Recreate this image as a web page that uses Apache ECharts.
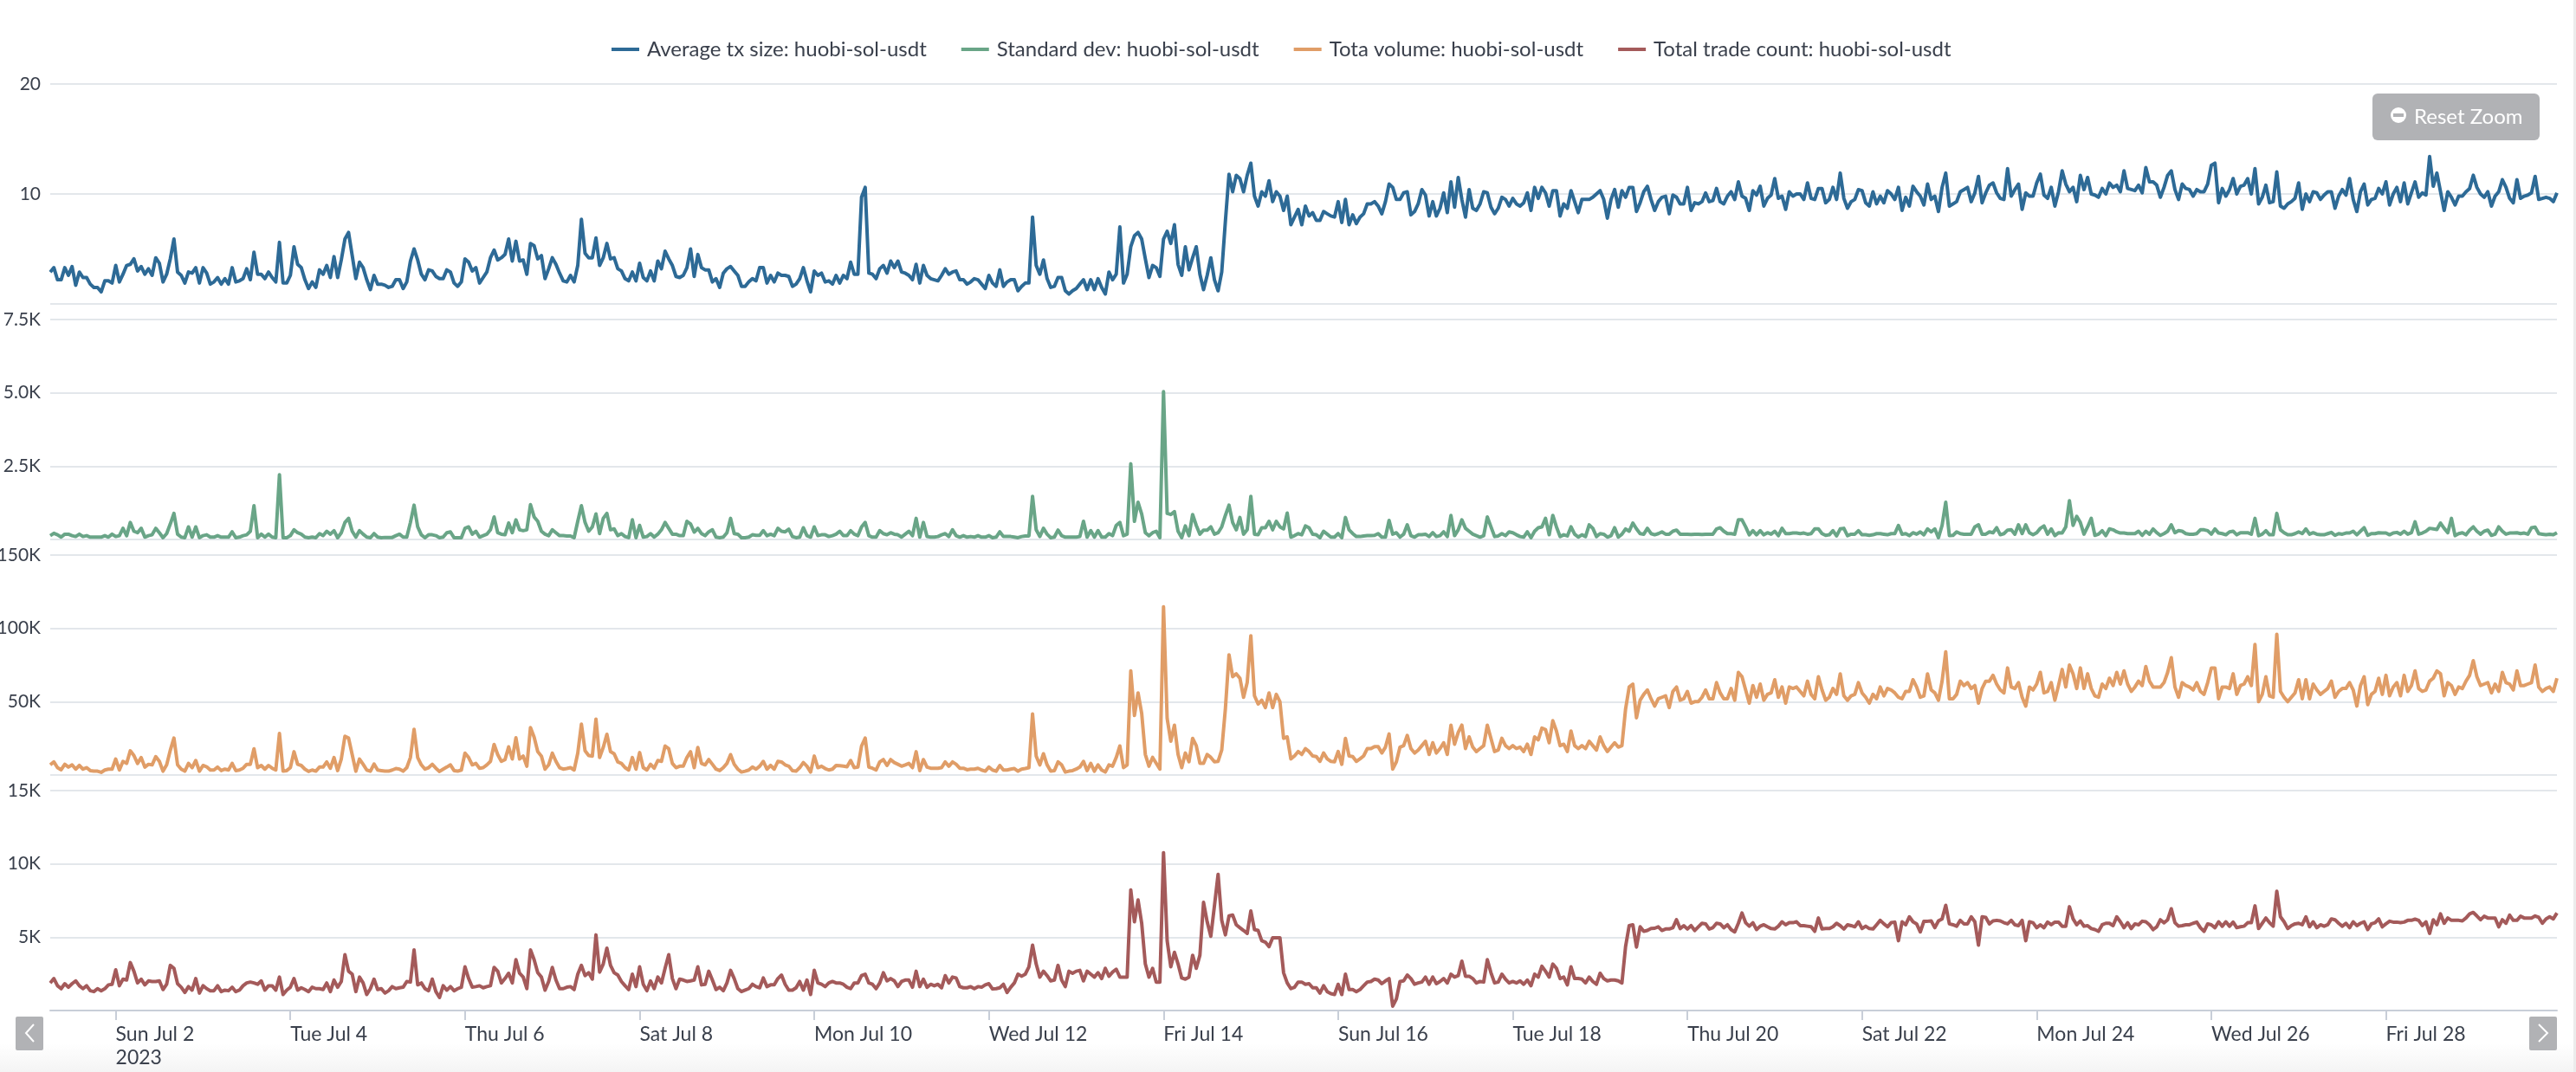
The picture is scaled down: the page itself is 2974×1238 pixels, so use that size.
<!DOCTYPE html>
<html><head><meta charset="utf-8">
<style>html,body{margin:0;padding:0;background:#fff}#c{width:2974px;height:1238px}</style>
<script src="https://cdn.jsdelivr.net/npm/echarts@6/dist/echarts.min.js"></script>
</head><body><div id="c"></div><script>
const seriesNames=["Average tx size: huobi-sol-usdt","Standard dev: huobi-sol-usdt","Tota volume: huobi-sol-usdt","Total trade count: huobi-sol-usdt"];
const colors=["#2d6a96","#69a587","#e09d67","#a45a5a"];
const avgTxSize=[2.9,3.3,2.2,2.2,3.3,2.6,3.4,1.7,2.9,2.4,2.4,1.8,1.5,1.5,1.1,2.1,2.1,1.9,3.5,2.0,2.7,3.5,3.6,4.1,3.0,3.4,2.7,3.2,2.6,4.2,3.7,2.0,2.7,4.1,5.9,2.9,2.6,1.9,2.9,2.8,3.3,1.9,3.3,2.8,1.8,2.0,2.4,1.8,2.3,1.8,3.3,2.0,2.1,2.3,3.2,2.2,4.7,2.7,2.7,2.3,2.9,2.4,2.0,5.6,1.9,1.9,2.6,5.2,3.6,3.3,2.2,1.4,2.0,1.5,3.1,2.7,3.5,2.4,4.3,2.4,4.0,5.9,6.5,4.4,2.3,3.8,3.3,2.2,1.3,2.6,1.8,1.8,1.7,1.5,1.6,2.2,2.2,1.4,2.0,3.9,5.0,4.0,2.7,2.2,3.1,3.0,2.5,2.3,2.3,3.1,2.9,1.9,1.6,2.0,4.1,3.8,3.0,3.3,1.9,2.4,2.9,4.2,4.9,4.0,4.2,4.5,5.9,3.9,5.7,3.9,4.0,2.7,5.5,5.3,4.1,4.4,2.3,3.2,4.2,3.6,2.8,2.1,2.0,2.6,2.0,3.5,7.7,4.6,4.2,4.2,6.0,3.5,4.2,5.5,4.1,4.2,3.2,3.0,2.3,2.1,2.9,2.1,3.7,2.4,2.1,3.0,2.1,3.9,3.2,4.8,4.1,3.5,2.5,2.4,2.6,3.3,5.0,2.5,4.5,3.3,3.1,3.1,2.0,2.3,1.5,2.8,3.2,3.4,3.0,2.6,1.6,1.6,2.0,2.3,2.1,3.3,3.3,1.9,2.6,2.0,2.8,2.6,2.6,2.5,1.6,1.8,2.3,3.3,2.1,1.1,3.0,2.6,2.8,2.0,2.1,1.8,2.6,1.9,2.6,2.3,3.8,2.7,2.7,9.7,10.6,
2.8,2.7,2.3,3.2,3.5,2.8,3.9,3.3,3.9,2.9,2.8,2.6,2.2,3.6,1.9,3.5,2.6,2.3,2.2,2.1,2.6,3.2,2.7,2.9,3.0,2.2,2.2,1.8,2.0,2.3,2.2,1.8,1.4,2.6,1.9,1.6,3.1,1.6,2.0,2.2,2.2,1.2,1.6,1.9,1.9,7.9,3.5,2.7,4.0,2.3,1.5,1.6,2.4,2.4,1.2,0.9,1.2,1.4,1.8,2.2,1.3,2.2,1.3,2.3,1.5,0.9,2.9,2.2,2.7,7.0,1.9,2.7,5.2,6.2,6.5,5.9,4.1,2.4,3.5,3.3,2.5,5.9,6.6,5.5,7.2,3.6,2.6,5.2,3.1,4.2,5.2,2.7,1.3,2.6,4.2,2.2,1.2,2.9,7.5,11.8,10.2,11.7,11.4,10.2,11.7,12.8,9.8,8.9,10.2,9.8,11.2,9.3,10.2,9.8,8.5,9.8,7.2,7.9,8.6,7.2,8.9,8.0,8.3,7.6,7.6,8.4,8.2,8.0,7.9,9.3,7.4,9.5,7.2,8.1,7.3,7.9,8.2,9.1,9.1,9.3,8.9,8.2,9.3,10.9,10.6,9.5,9.5,10.1,10.2,8.1,8.4,9.1,10.4,9.9,8.0,9.3,8.0,8.7,10.1,8.3,11.1,8.8,11.5,9.5,7.9,10.4,8.7,8.5,9.1,10.2,10.1,8.8,8.2,8.7,9.7,9.5,8.9,9.6,9.1,8.9,9.2,10.1,8.5,10.6,9.6,10.6,10.1,8.9,10.3,10.3,8.0,9.1,8.7,10.3,9.3,8.3,9.5,9.5,9.5,9.7,10.0,10.3,9.5,7.8,9.5,10.4,8.8,10.3,9.7,10.6,10.6,8.4,9.2,10.2,10.7,9.5,8.5,9.3,9.7,9.8,8.2,9.9,9.7,9.1,9.1,10.6,8.5,9.2,9.1,9.3,10.1,9.3,9.4,10.5,9.3,9.1,9.8,10.2,9.5,
11.1,9.8,9.6,8.5,10.3,9.9,10.7,8.9,9.6,9.9,11.4,9.6,9.8,8.6,10.2,9.8,10,10,9.5,11,9.6,9.5,10.5,10.5,9.2,9.5,10.6,9.5,11.9,9.6,8.7,9.3,9.5,10.4,10.3,9.2,8.9,10.2,9.1,9.8,9.2,10.3,10,9.5,10.6,8.5,9.7,8.9,10.7,10.2,9.8,9,10.9,9.5,9.8,8.4,10.6,11.9,8.9,9.1,9.3,10.2,10.4,10.6,9.3,10.1,11.6,9.2,10.1,10.8,11,10.1,9.6,9.5,12.3,9.8,10.4,10.9,8.6,10.1,9.8,9.8,11,11.8,9.9,9.6,10.6,8.9,10.2,12.1,10.9,10.2,10.6,9.3,11.7,10.4,11.5,10,9.9,9.7,10.5,10,11,10.6,10.8,10.2,12.1,10.5,10.4,10.3,10.8,10.1,12.4,11.1,11.1,10.8,9.7,10.6,11.7,12.1,10.4,9.5,10.9,10.5,10.4,9.8,10.4,10.2,10.2,10.9,12.6,12.8,9.2,10.5,9.8,10.4,11.4,10,10.7,10.8,11.4,10,12.3,9.1,9.7,10.8,9.2,9.3,12,8.9,8.7,9.1,9.3,9.6,11,8.6,10,9.3,10.2,10.1,9.5,9.9,10.2,10.2,8.7,9.8,10.4,9.9,11.4,9.5,8.4,10.2,10.9,9,9.5,9.6,10.5,10,11.1,9,10,10.6,9.3,11,9.1,10.1,11.1,9.7,10.1,9.9,13.4,10.7,11.9,10.2,8.5,10.2,9.7,9,9.8,9.8,10.2,10.5,11.7,10.6,10,9.7,10.2,8.9,9.8,10.2,11.3,10.6,9.6,9.2,11.3,9.6,9.8,9.9,10.1,11.6,9.5,9.6,9.7,9.6,9.3,10.1];
const stdDev=[130,210,160,80,180,180,130,100,180,100,130,80,80,80,80,130,80,180,100,130,380,130,580,280,230,380,80,130,160,380,230,60,200,530,890,180,80,60,430,80,430,60,130,160,80,80,130,80,80,80,260,60,80,130,160,280,1150,60,180,80,180,80,60,2210,60,60,130,330,230,180,80,60,80,60,200,130,280,180,300,60,230,580,720,280,80,300,180,80,60,200,80,60,70,70,70,130,180,80,80,580,1170,430,160,60,160,160,130,60,80,230,260,60,60,60,380,430,180,280,80,130,180,330,770,230,180,160,560,230,670,330,300,330,1190,770,620,280,180,130,330,230,130,130,120,120,60,620,1150,580,280,430,870,200,720,890,330,360,130,200,100,60,670,60,480,80,100,200,80,180,330,580,380,180,180,130,130,620,530,250,380,200,130,260,330,80,60,80,230,720,200,180,60,60,80,160,140,140,300,130,180,130,380,280,260,350,100,60,80,400,130,80,430,130,160,160,100,130,180,280,130,130,300,180,130,430,580,
130,80,80,300,200,160,230,180,160,80,180,280,130,720,80,580,100,80,80,100,160,200,100,330,130,80,130,80,100,80,130,80,80,130,60,80,260,100,100,100,80,60,100,120,120,1470,330,100,380,180,60,80,320,130,80,80,80,80,100,620,80,300,80,300,80,80,200,130,480,580,130,180,2580,620,1270,870,230,130,230,280,60,5040,890,850,950,280,60,460,130,850,480,180,320,320,430,180,230,430,820,1170,580,330,750,180,330,1470,180,160,400,400,620,330,620,430,360,900,80,130,200,160,460,400,180,160,60,280,180,80,80,200,60,750,330,200,100,100,120,130,130,140,200,80,80,650,180,230,80,180,500,130,80,160,160,180,100,230,100,130,260,100,820,130,330,670,380,280,180,130,80,130,770,430,100,120,200,130,260,230,160,100,80,260,60,280,400,430,720,160,820,430,100,160,120,430,180,80,160,100,500,380,100,200,180,80,130,400,80,180,360,280,560,360,200,180,380,200,160,200,260,180,180,280,320,180,180,180,170,180,180,170,180,180,180,360,400,280,200,200,180,
670,670,430,160,300,160,300,160,230,180,280,130,380,200,200,220,220,200,220,180,200,360,360,200,140,160,300,120,360,380,130,180,180,300,160,160,140,160,200,200,180,160,200,200,480,180,200,130,230,180,260,160,360,260,360,60,480,1270,130,140,260,200,180,180,180,430,500,180,180,260,230,400,160,200,320,330,180,500,200,500,230,160,230,380,460,180,360,130,230,220,430,1320,480,790,580,180,430,720,140,180,300,130,360,330,260,220,220,200,200,200,280,140,280,180,360,230,140,200,280,500,230,300,280,200,180,180,200,330,330,300,180,360,220,200,160,260,280,160,230,230,230,180,720,130,180,300,160,160,890,330,230,160,160,200,260,200,360,180,230,180,160,160,200,240,140,200,180,220,220,280,160,280,400,140,200,200,230,220,220,160,220,240,180,280,180,230,600,180,220,280,380,360,340,560,380,230,720,130,200,230,160,320,430,280,180,280,320,140,180,430,280,180,220,220,230,200,220,180,400,420,200,180,160,180,160,230];
const totalVolume=[6900,8900,5000,3600,7300,5400,6900,4000,6500,4000,5000,3000,2600,2600,1800,3400,4000,4000,10900,3400,9300,7900,16500,13300,7900,11900,5400,7300,6900,12500,9300,2600,6900,16900,25200,6900,4000,2600,7900,5000,9900,2600,6500,5600,3400,3400,5400,3000,4000,3400,7900,3000,3400,4600,7300,7300,17900,5000,6500,4000,6500,4600,3400,28400,2600,3000,5000,15900,7300,6500,4000,2400,3400,2600,5400,5400,8900,4600,11900,3000,10900,26400,25200,13900,2600,10900,7300,3400,2600,7500,3400,3000,2600,2600,3400,4400,4000,2600,5000,11900,31100,11900,6900,4000,5000,7300,4600,2400,4000,5400,6900,3000,2600,3400,14900,11900,6900,7900,4600,5000,6900,9300,20800,13900,9300,10500,19200,10900,25400,10900,12900,6000,32300,25800,15900,12900,4000,6900,14900,9300,5000,4000,4400,5000,3400,14900,34700,16500,13300,12900,38100,11900,18800,27800,15900,14500,8900,7900,5000,3400,11900,4000,15300,5000,3400,7300,4600,9900,9300,19800,17900,7900,5000,6000,6000,11900,15900,5000,18800,7900,6900,10500,7300,4000,3000,5000,7900,13900,7300,4000,2000,2600,3400,5400,4000,6000,9300,4000,6500,4000,9300,8900,6900,6000,3000,2600,5000,8500,6000,2000,12900,5000,6000,4400,3400,4000,6500,6300,6000,5600,9900,5000,5400,19800,25200,
5400,4600,3400,8900,10500,6500,10500,8500,7300,6000,6900,7900,5000,15900,3000,10500,5400,4600,4600,4600,5000,8900,6000,8900,7300,4600,4600,3600,4000,4000,4600,3400,2600,5400,3400,2600,6500,3400,3400,4000,4400,2600,4000,4400,5000,41700,12900,6900,14500,6900,2600,3000,8900,6900,2000,2600,3000,4000,5400,9300,3000,7900,2600,6900,3400,2000,6900,6000,11900,19800,5000,6900,71000,40600,56000,42000,14000,6000,12000,8000,4000,114700,38600,23000,34000,14000,5000,15000,9000,25000,20000,8000,8000,14000,12000,9000,9300,17000,45000,82000,67000,69000,66000,53000,63000,95000,54000,48400,51000,46000,56000,46000,55000,50000,25000,26000,11000,13000,16000,14000,18000,16000,13000,12500,9300,15000,11000,9300,9000,16000,7300,25000,13000,12500,9300,11000,13000,18000,18000,19400,19400,15000,19000,28000,4000,9000,19000,20000,27000,18000,15000,17000,20000,23000,14000,22000,15000,18000,22000,14000,34000,21000,29000,34000,18000,26000,19000,16000,18000,20000,34000,25000,16000,17000,25000,20000,18000,20000,18000,19000,16000,21000,14000,26000,24000,32000,31000,22000,37000,30000,20000,21000,16000,30000,20000,18000,20000,18000,23000,20000,17000,26000,20000,16000,19000,22000,19000,20000,45000,60000,62000,39000,51000,55000,58000,52000,47000,52000,53000,54000,46000,57000,60000,51000,52000,57000,49000,50000,50000,53000,58000,52000,52000,63000,56000,52000,52000,59000,51000,
70000,67000,58000,49000,61000,53000,62000,51000,55000,56000,65000,53000,60000,49000,60000,59000,60000,57000,54000,64000,55000,52000,67000,58000,51000,53000,59000,55000,69000,54000,51000,54000,55000,63000,56000,53000,49000,55000,52000,60000,54000,59000,58000,56000,53000,52000,57000,57000,65000,60000,53000,54000,69000,58000,56000,51000,64000,84000,52000,52000,55000,64000,61000,63000,59000,61000,49000,59000,64000,64000,68000,62000,58000,56000,73000,60000,59000,63000,53000,47000,60000,58000,62000,70000,56000,57000,63000,51000,61000,72000,60000,75000,69000,59000,73000,59000,69000,59000,54000,53000,62000,59000,66000,61000,70000,62000,71000,62000,57000,60000,64000,61000,74000,64000,60000,60000,60000,63000,70000,80000,60000,53000,63000,61000,60000,58000,63000,57000,55000,63000,73000,73000,52000,60000,60000,59000,69000,55000,61000,62000,67000,61000,89000,50000,55000,67000,54000,53000,96000,57000,53000,50000,53000,56000,65000,52000,65000,52000,62000,58000,55000,57000,59000,64000,53000,57000,59000,59000,63000,58000,47000,61000,67000,48000,55000,57000,66000,55000,68000,54000,60000,63000,54000,68000,57000,61000,71000,59000,57000,58000,64000,66000,71000,69000,54000,63000,61000,55000,60000,59000,64000,68000,78000,67000,61000,62000,63000,56000,62000,57000,70000,63000,62000,58000,71000,61000,61000,62000,63000,75000,60000,57000,59000,60000,57000,66000];
const totalTradeCount=[1880,2180,1690,1490,1830,1590,1830,2020,1690,1490,1690,1350,1290,1490,1350,1490,1750,1790,2780,1690,2140,2080,3270,2680,1880,2140,1750,2020,1980,1980,2020,1430,1790,3080,2880,1830,1590,1230,1630,1390,2180,1190,1690,1490,1350,1350,1690,1290,1390,1350,1590,1290,1390,1690,1880,1940,1880,1790,2020,1390,1690,1690,1390,2280,1090,1390,1590,2180,1390,1550,1430,1290,1590,1490,1490,1430,1880,1290,2080,1590,1980,3810,2680,2480,1290,2280,1880,1090,1490,2140,1430,1490,1190,1350,1630,1490,1550,1590,1980,1940,4130,1750,1880,1490,1350,2140,1290,890,1690,1390,1630,1350,1490,1590,2980,2180,1590,1630,1690,1550,1630,1690,2940,2680,1880,2180,2540,1880,3470,2540,2280,1490,4130,3470,2580,2280,1390,1980,2940,2080,1490,1490,1590,1630,1430,2480,3080,2380,2580,2140,5160,2620,3170,4250,3080,2580,2420,1980,1690,1430,2480,1630,2980,1790,1350,2020,1490,2280,1880,2880,3810,2180,1490,2140,2080,1980,2020,2080,2980,1750,1790,2680,2080,1430,1590,1350,1880,2740,2180,1490,1290,1390,1490,1790,1630,1550,2220,1630,1750,1750,2180,2420,1790,1390,1390,1550,1980,1390,2080,1090,2740,1880,1790,1630,1880,1980,1880,1880,1790,1590,1490,1880,1880,2380,2480,
1880,1790,1490,1880,2580,2020,2180,2020,1630,1980,2080,2080,1590,2680,1630,2140,1590,1790,1690,1790,1550,2380,1880,2280,2220,1630,1550,1550,1630,1490,1630,1590,1750,1830,1470,1490,1550,1790,1230,1590,1880,2480,2340,2480,2980,4460,3170,2280,2680,2380,2020,2080,3080,2080,1630,2680,2540,2680,2740,2020,2680,2480,2280,2580,2180,2880,2340,2620,2820,2280,2280,2280,8230,6050,7540,5950,3170,2280,2880,1940,1940,10770,4760,2980,3970,3170,2220,2140,2280,3770,2880,3770,7380,6050,5060,7140,9290,6150,5160,6450,6510,5850,5650,5460,5260,6790,5520,5460,4760,4660,4360,4960,4960,4960,2580,1880,1490,1590,1940,1940,1790,1830,1550,1550,1190,1690,1290,1150,1090,1790,1090,2480,1430,1430,1290,1430,1690,1940,1980,2140,2080,1830,2020,2180,300,790,1980,2020,2420,2180,1790,1880,1940,2280,1790,2280,1830,1980,2180,1880,2480,2280,2380,3370,2340,2340,2180,1880,1980,1940,3470,2580,1880,1940,2480,2140,1880,1980,1880,2020,1790,2080,1690,2480,2280,3020,2680,2280,3170,2880,2180,2280,1750,2980,2180,2180,2140,1880,2280,1980,1790,2540,2180,2020,2080,2080,2020,1880,4360,5790,5850,4330,5710,5400,5460,5590,5610,5710,5460,5560,5560,5650,6190,5590,5790,5560,5790,5460,5710,5950,5910,5560,5650,5950,5910,5650,5850,5520,5360,
5950,6650,5990,5750,5990,5520,5750,5850,5710,5590,5560,5750,6050,5850,5990,5990,6050,5790,5790,5750,5710,5400,6310,5560,5590,5590,5710,5950,5790,5560,5850,5790,5710,6050,5590,5750,5590,5560,5850,6150,5910,5710,5990,6030,4760,6050,5850,6390,6050,5910,5360,6090,6090,6110,5650,6110,6250,7180,5910,5850,5750,6150,5910,5910,6390,6050,4460,6390,6350,5910,6110,6150,6110,5990,5910,6150,5850,5790,6150,4760,6050,5990,5650,5850,5650,6030,5850,6030,6030,5750,5750,7080,6250,5850,6110,5750,5790,5590,5520,5400,5850,5950,5950,5790,6390,6050,5650,5990,5590,5910,5850,6090,6050,5850,5520,5710,6190,5990,6190,6940,5990,5750,5790,5850,5850,5950,6030,5650,5400,5910,5850,5650,6050,5750,6050,5750,6030,5650,5710,5750,5990,5990,7140,5590,5950,6310,5990,5750,8130,6390,6050,5590,5790,5910,5950,5850,6390,5710,6050,5650,5850,5750,5850,6250,6190,5950,5750,5950,5650,6050,5790,5950,6050,5520,5910,5990,6250,5710,5910,6090,6030,6030,5990,6030,6150,6150,6230,6150,5790,6050,5260,6190,5850,6590,5950,6310,6150,6150,6150,6110,6310,6590,6690,6450,6190,6430,6310,6310,6310,5710,6190,5950,6510,6150,6150,6430,6310,6310,6310,6450,6350,5950,6250,6390,6250,6650];
const startHourUTC=Date.UTC(2023,6,1,6);
const pointCount=690;
const yMax=[20,7500,150000,15000];
const yStep=[10,2500,50000,5000];
const yUnitFixed=[null,1,0,0];
const allSeries=[avgTxSize,stdDev,totalVolume,totalTradeCount];
const DAY=["Sun","Mon","Tue","Wed","Thu","Fri","Sat"],MON=["Jan","Feb","Mar","Apr","May","Jun","Jul","Aug"];
const dates=Array.from({length:pointCount},(_,i)=>new Date(startHourUTC+i*3600000));
const cats=dates.map(d=>DAY[d.getUTCDay()]+" "+MON[d.getUTCMonth()]+" "+d.getUTCDate());
const isTick=i=>dates[i]&&dates[i].getUTCHours()===0&&dates[i].getUTCDate()%2===0;
const FONT="Lato";
const panes=[[97,254],[369,254],[641,254],[913,254]];
const left=58,right=22;
const grid=panes.map(p=>({left,right,top:p[0],height:p[1],containLabel:false,outerBoundsMode:"none"}));
const xAxis=panes.map((p,k)=>({type:"category",gridIndex:k,data:cats,boundaryGap:false,show:k===3,min:0,max:pointCount-1,
  axisLine:{show:true,lineStyle:{color:"#c8ced8",width:2}},
  axisTick:{show:true,interval:i=>isTick(i),length:11,lineStyle:{color:"#c8ced8",width:2}},
  splitLine:{show:false},
  axisLabel:{show:true,interval:i=>isTick(i),align:"left",fontFamily:FONT,fontSize:23,color:"#3a404c",margin:14,lineHeight:27,hideOverlap:false,
    formatter:(v,i)=>i===18?v+"\n2023":v}}));
const yAxis=panes.map((p,k)=>({type:"value",gridIndex:k,min:0,max:yMax[k],interval:yStep[k],
  axisLine:{show:false},axisTick:{show:false},
  splitLine:{show:true,lineStyle:{color:"#e3e7eb",width:2}},
  axisLabel:{margin:11,fontFamily:FONT,fontSize:21,color:"#3a404c",padding:[6,0,0,0],
    formatter:v=>{if(v===0)return"";const f=yUnitFixed[k];return f===null?String(v):(v/1000).toFixed(f)+"K";}}}));
const series=allSeries.map((d,k)=>({name:seriesNames[k],type:"line",xAxisIndex:k,yAxisIndex:k,data:d.slice(0,pointCount),
  showSymbol:false,symbol:"none",smooth:false,sampling:null,clip:false,z:3,
  lineStyle:{color:colors[k],width:4,join:"round"},itemStyle:{color:colors[k]}}));
const btn="#b1b2b5";
const graphic=[
 {type:"rect",z:0,shape:{x:0,y:1205,width:2974,height:33},style:{fill:{type:"linear",x:0,y:0,x2:0,y2:1,colorStops:[{offset:0,color:"#ffffff"},{offset:1,color:"#f4f4f4"}]}}},
 {type:"rect",z:0,shape:{x:2971,y:0,width:3,height:1238},style:{fill:"#ececec"}},
 {type:"rect",z:10,shape:{x:2739,y:108,width:193,height:54,r:6},style:{fill:btn}},
 {type:"circle",z:11,shape:{cx:2769,cy:133,r:9},style:{fill:"#fff"}},
 {type:"rect",z:12,shape:{x:2763,y:131,width:12,height:4},style:{fill:btn}},
 {type:"text",z:11,x:2787,y:135,style:{text:"Reset Zoom",fill:"#fff",font:"24px "+FONT,textVerticalAlign:"middle",textBaseline:"middle"}},
 {type:"rect",z:10,shape:{x:18,y:1174,width:32,height:39,r:2},style:{fill:btn}},
 {type:"polyline",z:11,shape:{points:[[39,1183],[30,1193],[39,1203]]},style:{stroke:"#fff",lineWidth:2,fill:null}},
 {type:"rect",z:10,shape:{x:2920,y:1174,width:32,height:39,r:2},style:{fill:btn}},
 {type:"polyline",z:11,shape:{points:[[2931,1183],[2941,1193],[2931,1203]]},style:{stroke:"#fff",lineWidth:2,fill:null}}
];
const chart=echarts.init(document.getElementById("c"),null,{renderer:"canvas"});
chart.setOption({animation:false,backgroundColor:"#fff",grid,xAxis,yAxis,series,graphic,
 legend:{show:true,left:706,top:45,icon:"rect",itemWidth:32,itemHeight:4,itemGap:40,padding:0,
  textStyle:{fontFamily:FONT,fontSize:24,color:"#3a404c",padding:[0,0,0,4]},data:seriesNames,selectedMode:false}});
</script></body></html>
